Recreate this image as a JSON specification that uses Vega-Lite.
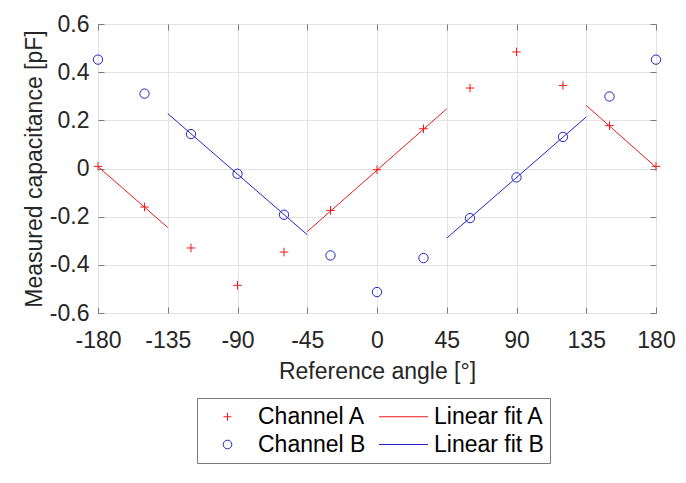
{
  "$schema": "https://vega.github.io/schema/vega-lite/v6.json",
  "width": 558,
  "height": 289,
  "autosize": {"type": "none"},
  "padding": {"left": 98, "top": 24, "right": 30, "bottom": 170},
  "background": "white",
  "config": {
    "font": "Liberation Sans",
    "view": {"stroke": "#7a7a7a", "strokeWidth": 1},
    "axis": {
      "labelFontSize": 23,
      "titleFontSize": 23,
      "titleFontWeight": "normal",
      "labelColor": "#262626",
      "titleColor": "#262626",
      "tickColor": "#7a7a7a",
      "domain": false,
      "labelFlush": false,
      "labelOverlap": false,
      "gridColor": "#e3e3e3",
      "gridWidth": 1
    }
  },
  "datasets": {
    "pts": [
      {"angle": -180, "value": 0.009, "series": "Channel A"},
      {"angle": -150, "value": -0.16, "series": "Channel A"},
      {"angle": -120, "value": -0.33, "series": "Channel A"},
      {"angle": -90, "value": -0.485, "series": "Channel A"},
      {"angle": -60, "value": -0.347, "series": "Channel A"},
      {"angle": -30, "value": -0.174, "series": "Channel A"},
      {"angle": 0, "value": -0.005, "series": "Channel A"},
      {"angle": 30, "value": 0.165, "series": "Channel A"},
      {"angle": 60, "value": 0.334, "series": "Channel A"},
      {"angle": 90, "value": 0.484, "series": "Channel A"},
      {"angle": 120, "value": 0.345, "series": "Channel A"},
      {"angle": 150, "value": 0.178, "series": "Channel A"},
      {"angle": 180, "value": 0.009, "series": "Channel A"},
      {"angle": -180, "value": 0.452, "series": "Channel B"},
      {"angle": -150, "value": 0.311, "series": "Channel B"},
      {"angle": -120, "value": 0.143, "series": "Channel B"},
      {"angle": -90, "value": -0.022, "series": "Channel B"},
      {"angle": -60, "value": -0.192, "series": "Channel B"},
      {"angle": -30, "value": -0.361, "series": "Channel B"},
      {"angle": 0, "value": -0.513, "series": "Channel B"},
      {"angle": 30, "value": -0.372, "series": "Channel B"},
      {"angle": 60, "value": -0.206, "series": "Channel B"},
      {"angle": 90, "value": -0.037, "series": "Channel B"},
      {"angle": 120, "value": 0.131, "series": "Channel B"},
      {"angle": 150, "value": 0.299, "series": "Channel B"},
      {"angle": 180, "value": 0.452, "series": "Channel B"}
    ],
    "fits": [
      {"angle": -180, "value": 0.008, "series": "Linear fit A", "seg": "A1"},
      {"angle": -135, "value": -0.245, "series": "Linear fit A", "seg": "A1"},
      {"angle": -45, "value": -0.262, "series": "Linear fit A", "seg": "A2"},
      {"angle": 45, "value": 0.248, "series": "Linear fit A", "seg": "A2"},
      {"angle": 135, "value": 0.262, "series": "Linear fit A", "seg": "A3"},
      {"angle": 180, "value": 0.005, "series": "Linear fit A", "seg": "A3"},
      {"angle": -135, "value": 0.228, "series": "Linear fit B", "seg": "B1"},
      {"angle": -45, "value": -0.275, "series": "Linear fit B", "seg": "B1"},
      {"angle": 45, "value": -0.289, "series": "Linear fit B", "seg": "B2"},
      {"angle": 135, "value": 0.214, "series": "Linear fit B", "seg": "B2"}
    ]
  },
  "layer": [
    {
      "data": {"name": "pts"},
      "mark": {"type": "point", "filled": false, "strokeWidth": 1, "size": 676, "opacity": 1},
      "encoding": {
        "x": {
          "field": "angle", "type": "quantitative",
          "scale": {"domain": [-180, 180], "nice": false, "zero": false},
          "axis": {
            "orient": "bottom",
            "values": [-180, -135, -90, -45, 0, 45, 90, 135, 180],
            "title": "Reference angle [°]",
            "format": "d",
            "labelExpr": "replace(datum.label, '−', '-')",
            "grid": true,
            "tickSize": -6,
            "labelPadding": 22,
            "titlePadding": 8
          }
        },
        "y": {
          "field": "value", "type": "quantitative",
          "scale": {"domain": [-0.6, 0.6], "nice": false, "zero": false},
          "axis": {
            "orient": "left",
            "values": [-0.6, -0.4, -0.2, 0, 0.2, 0.4, 0.6],
            "title": "Measured capacitance [pF]",
            "format": ".1~f",
            "labelExpr": "replace(datum.label, '−', '-')",
            "grid": true,
            "tickSize": -6,
            "labelPadding": 15,
            "titlePadding": 3
          }
        },
        "color": {
          "field": "series", "type": "nominal",
          "scale": {
            "domain": ["Channel A", "Linear fit A", "Channel B", "Linear fit B"],
            "range": ["#f01818", "#f01818", "#2424c8", "#2424c8"]
          },
          "legend": {
            "title": null,
            "orient": "none",
            "direction": "horizontal",
            "legendX": 99,
            "legendY": 374,
            "columns": 2,
            "columnPadding": 11,
            "rowPadding": 3,
            "padding": 6,
            "strokeColor": "#7a7a7a",
            "fillColor": "white",
            "labelFontSize": 23,
            "labelColor": "#000000",
            "labelOffset": 18,
            "labelLimit": 300,
            "symbolSize": 576,
            "symbolOffset": 12,
            "symbolStrokeWidth": 1,
            "symbolFillColor": "transparent"
          }
        },
        "shape": {
          "field": "series", "type": "nominal",
          "scale": {
            "domain": ["Channel A", "Linear fit A", "Channel B", "Linear fit B"],
            "range": [
              "M-0.33,0H0.33M0,-0.33V0.33",
              "M-2.04,0H2.04",
              "M0.36,0A0.36,0.36 0 1,1 -0.36,0A0.36,0.36 0 1,1 0.36,0Z",
              "M-2.04,0H2.04"
            ]
          }
        }
      }
    },
    {
      "data": {"name": "fits"},
      "mark": {"type": "line", "strokeWidth": 1},
      "encoding": {
        "x": {
          "field": "angle", "type": "quantitative",
          "axis": {
            "orient": "top",
            "values": [-180, -135, -90, -45, 0, 45, 90, 135, 180],
            "labels": false,
            "grid": false,
            "title": null,
            "tickSize": -6
          }
        },
        "y": {
          "field": "value", "type": "quantitative",
          "axis": {
            "orient": "right",
            "values": [-0.6, -0.4, -0.2, 0, 0.2, 0.4, 0.6],
            "labels": false,
            "grid": false,
            "title": null,
            "tickSize": -6
          }
        },
        "color": {"field": "series", "type": "nominal"},
        "detail": {"field": "seg"}
      }
    }
  ],
  "resolve": {"axis": {"x": "independent", "y": "independent"}}
}
